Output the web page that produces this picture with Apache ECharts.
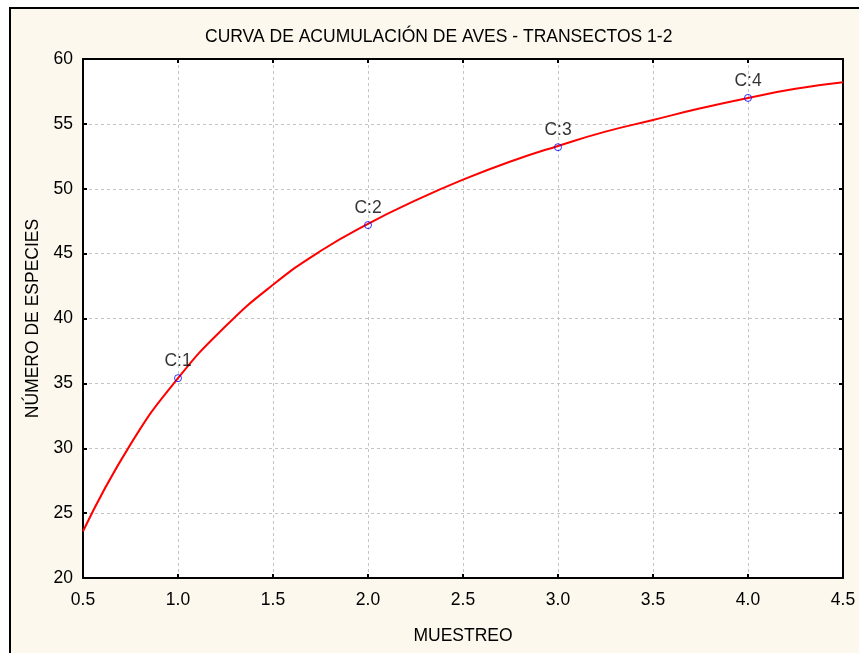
<!DOCTYPE html>
<html>
<head>
<meta charset="utf-8">
<script src="https://cdn.jsdelivr.net/npm/echarts@6/dist/echarts.min.js"></script>
<style>
  html, body { margin: 0; padding: 0; background: #ffffff; }
  #chart { width: 859px; height: 653px; }
</style>
</head>
<body>
<div id="chart"></div>
<script>
// Observed samples (accumulated species per sample)
var sampleX = [1, 2, 3, 4];
var sampleY = [35.4, 47.2, 53.2, 57.0];
var sampleLabels = ['C:1', 'C:2', 'C:3', 'C:4'];

// Fitted accumulation curve
var curveX = [0.5, 0.75, 1.0, 1.25, 1.5, 1.75, 2.0, 2.25, 2.5, 2.75, 3.0, 3.25, 3.5, 3.75, 4.0, 4.25, 4.5];
var curveY = [23.6, 30.3, 35.4, 39.4, 42.6, 45.2, 47.3, 49.1, 50.7, 52.1, 53.3, 54.4, 55.3, 56.2, 57.0, 57.7, 58.2];

var titleText = 'CURVA DE ACUMULACIÓN DE AVES - TRANSECTOS 1-2';
var xName = 'MUESTREO';
var yName = 'NÚMERO DE ESPECIES';

var FONT = '"Liberation Sans", Arial, sans-serif';
var FS = 17.5;

var chart = echarts.init(document.getElementById('chart'));

var gridLine = { show: true, lineStyle: { color: '#c4c4c4', type: [3, 3], width: 1 } };
var blackLine = { show: true, lineStyle: { color: '#000000', width: 2 } };
var tickIn = { show: true, inside: true, length: 4, lineStyle: { color: '#000000', width: 2 } };

chart.setOption({
  backgroundColor: '#ffffff',
  animation: false,
  graphic: [{
    type: 'rect',
    z: -10,
    silent: true,
    shape: { x: 10, y: 8, width: 900, height: 700 },
    style: { fill: '#fdf8ed', stroke: '#000000', lineWidth: 2 }
  }],
  title: {
    text: titleText,
    left: 200,
    top: 23,
    textStyle: { fontFamily: FONT, fontSize: FS, fontWeight: 'normal', color: '#000000' }
  },
  grid: {
    left: 83, right: 16, top: 59, bottom: 75,
    show: true, backgroundColor: '#ffffff', borderWidth: 0
  },
  xAxis: [{
    type: 'value',
    min: 0.5, max: 4.5, interval: 0.5,
    position: 'bottom',
    name: xName,
    nameLocation: 'middle',
    nameGap: 49,
    nameTextStyle: { fontFamily: FONT, fontSize: FS, color: '#000000' },
    axisLine: blackLine,
    axisTick: tickIn,
    splitLine: gridLine,
    axisLabel: {
      fontFamily: FONT, fontSize: FS, color: '#000000', margin: 13,
      formatter: function (v) { return v.toFixed(1); }
    }
  }, {
    type: 'value',
    min: 0.5, max: 4.5, interval: 0.5,
    position: 'top',
    axisLine: blackLine,
    axisTick: tickIn,
    splitLine: { show: false },
    axisLabel: { show: false }
  }],
  yAxis: [{
    type: 'value',
    min: 20, max: 60, interval: 5,
    position: 'left',
    name: yName,
    nameLocation: 'middle',
    nameGap: 40,
    nameTextStyle: { fontFamily: FONT, fontSize: FS, color: '#000000' },
    axisLine: blackLine,
    axisTick: tickIn,
    splitLine: gridLine,
    axisLabel: { fontFamily: FONT, fontSize: FS, color: '#000000', margin: 10 }
  }, {
    type: 'value',
    min: 20, max: 60, interval: 5,
    position: 'right',
    axisLine: blackLine,
    axisTick: tickIn,
    splitLine: { show: false },
    axisLabel: { show: false }
  }],
  series: [{
    type: 'line',
    name: 'curve',
    xAxisIndex: 0, yAxisIndex: 0,
    data: curveX.map(function (x, i) { return [x, curveY[i]]; }),
    smooth: true,
    showSymbol: false,
    lineStyle: { color: '#ff0000', width: 2 },
    z: 3
  }, {
    type: 'scatter',
    name: 'samples',
    xAxisIndex: 0, yAxisIndex: 0,
    data: sampleX.map(function (x, i) { return [x, sampleY[i]]; }),
    symbol: 'circle',
    symbolSize: 7,
    itemStyle: { color: 'rgba(0,0,0,0)', borderColor: '#0000ff', borderWidth: 1 },
    label: {
      show: true,
      position: 'top',
      distance: 4,
      fontFamily: FONT, fontSize: FS, color: '#000000',
      formatter: function (p) { return sampleLabels[p.dataIndex]; }
    },
    z: 4
  }]
});
</script>
</body>
</html>
